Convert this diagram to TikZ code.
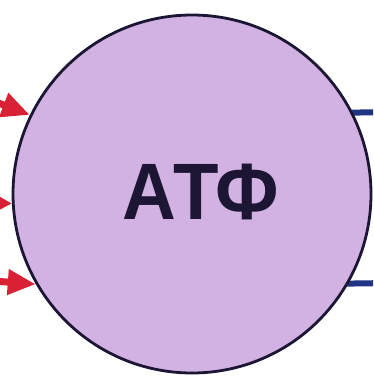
\documentclass[tikz,border=0pt]{standalone}
\usepackage{fontspec}
\usepackage{tikz}
\usetikzlibrary{arrows.meta}
\newfontfamily\atpfont{Liberation Sans}
\definecolor{cellfill}{RGB}{210,178,226}
\definecolor{cellline}{RGB}{28,22,52}
\definecolor{inred}{RGB}{218,32,52}
\definecolor{outblue}{RGB}{32,52,132}

\begin{document}
\begin{tikzpicture}[x=1pt,y=-1pt,
    inarrow/.style={inred,line width=7pt,-{Triangle[length=28pt,width=24pt]}},
    outline/.style={outblue,line width=6pt}]
			\useasboundingbox (0,0) rectangle (373,377);
			\clip (0,0) rectangle (373,377);
			% outgoing lines (behind the circle)
			\coordinate (out1) at (390,112);
			\coordinate (out2) at (390,283);
			\node[circle,minimum size=358pt,inner sep=0pt] (atpbox) at (192,194) {};
			\draw[outline] (atpbox.27) -- (out1);
			\draw[outline] (atpbox.-30) -- (out2);
			% the molecule
			\node[circle,draw=cellline,line width=2.8pt,fill=cellfill,
				minimum size=358pt,inner sep=0pt] (atp) at (192,194) {};
			\node[text=cellline,inner sep=0pt,
				font=\atpfont\bfseries\fontsize{80}{86}\selectfont] (atplabel) at (201,192) {\scalebox{0.93}[1]{АТФ}};
			% incoming arrows
			\coordinate (in1) at (-20,96);
			\coordinate (in2) at (-20,203);
			\coordinate (in3) at (-20,280);
			\draw[inarrow] (in1) -- (atp.154);
			\draw[inarrow,line width=6pt,-{Triangle[length=14pt,width=14pt]}] (in2) -- (atp.183);
			\draw[inarrow] (in3) -- (atp.210);
		\end{tikzpicture}
\end{document}
